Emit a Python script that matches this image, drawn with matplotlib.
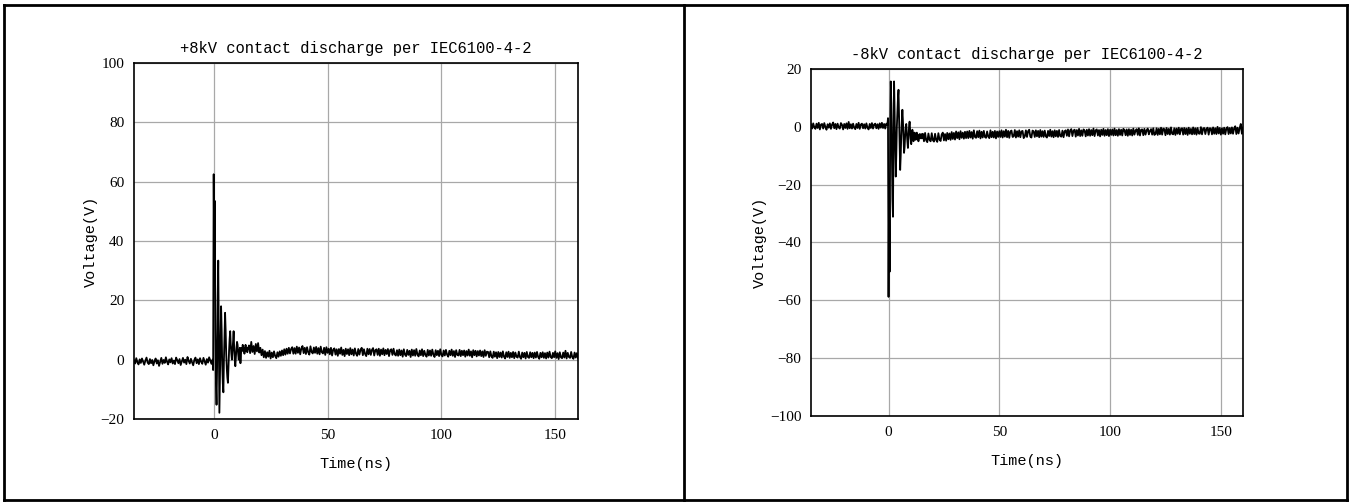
import numpy as np
import matplotlib
matplotlib.use("Agg")
import matplotlib.pyplot as plt
from matplotlib.lines import Line2D

plt.rcParams['font.family'] = ['Liberation Mono', 'DejaVu Sans']

# sample grid of the scope (ns)
pre_start, pre_dt = -35.0, 0.5
ring_start, ring_dt = -0.25, 0.25
post_start, post_dt = 15.5, 0.5

x_ticks = [0, 50, 100, 150]

# +8kV capture
pos_title = "+8kV contact discharge per IEC6100-4-2"
pos_yticks = [-20, 0, 20, 40, 60, 80, 100]
pos_pre = [
    -0.2, -1.3, 0.5, -0.9, -1.6, 0.1, -1.1, 0.4, -0.6, -1.7,
    -0.3, 0.7, -1.0, -1.5, 0.2, -1.2, -0.1, -1.9, -0.5, 0.4,
    -1.3, -0.2, -2.1, -0.8, 0.6, -1.4, -0.1, -1.1, 0.8, -0.7,
    -1.6, 0.1, -0.9, 0.5, -1.3, -0.3, -1.5, 0.7, -0.2, -1.2,
    0.2, -1.8, -0.6, 0.6, -1.0, 0.0, -1.5, 0.9, -0.4, -1.3,
    0.3, -0.9, -1.9, -0.1, 0.7, -1.2, 0.1, -1.5, 0.5, -0.7,
    -1.4, 0.6, -0.5, -1.7, 0.2, -1.0, 0.8, -0.3, -1.4, 0.0]
pos_ring = [
    -3.5, 62.5, 30.0, 53.5, 10.0, -8.0, -15.2, -2.0, 20.0, 33.4,
    5.0, -17.9, -6.0, 8.0, 18.0, 10.0, -2.0, -8.0, -11.0, 0.0,
    8.0, 15.8, 10.0, 2.0, -3.0, -6.0, -7.8, -2.0, 3.0, 7.0,
    9.6, 5.0, 2.0, 0.0, 3.0, 6.0, 9.6, 4.0, 0.0, -2.2,
    1.0, 4.0, 6.0, 5.0, 2.0, 0.0, 2.0, 4.0, -1.2, 2.0,
    4.0, 3.0, 5.0, 3.0, 4.0, 2.0, 3.5, 5.0, 3.0, 4.0,
    2.5, 3.5]
pos_post = [
    4.8, 2.2, 6.0, 2.6, 4.6, 1.9, 5.3, 2.8, 5.6, 2.4,
    4.0, 1.5, 3.4, 0.8, 2.9, 0.6, 2.5, 1.0, 3.0, 0.4, 2.4, 0.8, 2.8, 1.2, 0.5, 2.5,
    1.0, 2.8, 1.3, 3.1, 1.5, 3.5, 1.7, 3.7, 2.0, 4.0, 2.1, 3.6, 4.2, 2.0,
    3.9, 2.0, 4.4, 2.3, 4.1, 1.8, 3.8, 4.6, 2.2, 4.0,
    1.9, 4.2, 2.5, 1.7, 4.5, 2.6, 2.1, 4.1, 2.3, 4.3,
    2.0, 3.9, 1.8, 4.4, 2.5, 2.1, 4.0, 1.6, 4.2, 2.3,
    3.7, 1.8, 4.0, 1.4, 3.4, 3.8, 1.7, 3.5, 1.3, 3.6,
    2.0, 4.1, 1.6, 3.3, 1.2, 3.7, 1.9, 3.5, 1.5, 3.9,
    1.8, 3.4, 1.4, 3.8, 2.0, 1.3, 3.6, 1.7, 3.3, 4.0,
    1.5, 3.5, 1.9, 1.2, 3.7, 1.8, 3.6, 1.6, 3.3, 3.9,
    1.4, 3.2, 3.5, 1.6, 3.7, 1.3, 3.4, 1.8, 3.8, 1.5,
    3.3, 1.9, 3.6, 1.2, 3.2, 3.5, 1.6, 3.7, 1.8, 1.4,
    3.2, 1.3, 3.4, 1.5, 3.1, 1.0, 3.5, 1.7, 1.2, 3.3,
    1.6, 3.0, 0.9, 3.4, 1.4, 3.2, 1.3, 3.6, 1.7, 1.1,
    3.1, 1.5, 3.5, 1.2, 3.0, 1.6, 1.0, 3.3, 1.4, 3.1,
    1.3, 3.4, 1.7, 0.9, 3.2, 1.5, 3.0, 1.2, 3.5, 1.6,
    1.1, 3.1, 1.4, 3.3, 1.7, 1.0, 3.0, 1.5, 3.4, 1.3,
    2.9, 0.9, 3.2, 1.6, 1.4, 3.3, 1.2, 3.0, 1.5, 3.1,
    1.0, 2.9, 1.4, 3.4, 1.3, 2.8, 0.8, 3.2, 1.5, 3.0,
    1.1, 2.9, 1.4, 3.1, 1.2, 2.8, 0.9, 3.2, 1.3, 2.7,
    2.6, 0.8, 2.8, 1.1, 0.6, 2.7, 1.0, 2.5, 0.5, 2.6,
    0.9, 2.4, 0.7, 2.8, 1.0, 0.4, 2.5, 0.9, 2.7, 0.6,
    2.3, 0.8, 2.6, 0.5, 2.4, 1.0, 0.7, 2.7, 0.9, 0.3,
    2.4, 0.8, 2.3, 0.4, 2.6, 0.9, 0.6, 2.5, 0.8, 2.3,
    0.5, 2.4, 0.7, 2.6, 0.9, 0.3, 2.3, 0.8, 2.5, 0.6,
    2.2, 0.4, 2.4, 0.7, 2.7, 0.9, 0.5, 2.3, 0.8, 2.8,
    0.6, 2.2, 0.2, 2.5, 0.8, 0.5, 2.4, 0.7, 3.0, 0.4,
    2.3, 0.9, 0.6, 2.6, 0.8, 0.3, 2.4, 0.7, 2.2, 0.5]

# -8kV capture
neg_title = "-8kV contact discharge per IEC6100-4-2"
neg_yticks = [-100, -80, -60, -40, -20, 0, 20]
neg_pre = [
    0.9, -0.6, 1.2, -0.2, -0.7, 1.1, -0.4, 1.4, -0.9, 0.8,
    1.0, -0.6, 1.3, -0.1, -1.0, 0.9, -0.3, 1.2, -0.7, 0.8,
    1.5, -0.5, 1.0, -0.8, 1.1, -0.2, -0.6, 1.3, 0.7, -0.9,
    1.0, -0.4, 1.2, -0.7, 1.7, -0.5, 0.9, -0.6, 1.1, -0.3,
    -0.8, 1.0, -0.4, 1.4, -0.7, 0.8, 1.1, -0.5, 0.9, -0.6,
    1.2, -0.3, -0.9, 1.0, -0.4, 1.3, -0.6, 0.8, 1.1, -0.5,
    0.9, -0.7, 1.2, -0.3, 1.4, -0.4, 1.0, -0.6, 1.1, 0.7]
neg_ring = [
    3.0, -58.8, -20.0, -50.1, 0.0, 15.7, 8.0, -10.0, -25.0, -31.1,
    0.0, 15.7, 5.0, -8.0, -17.2, -10.0, 0.0, 5.0, 10.0, 12.8,
    3.0, -8.0, -14.9, -10.0, -3.0, 2.0, 5.9, 2.0, -4.0, -9.0,
    -7.0, -3.0, 0.0, 1.0, -2.0, -5.0, -7.3, -4.0, 0.0, 1.8,
    -1.0, -4.0, -6.0, -3.0, -1.0, -2.0, -5.0, -4.0, -2.0, -3.0,
    -4.5, -3.0, -2.0, -4.0, -3.0, -5.0, -3.0, -2.5, -4.0, -3.5,
    -2.5, -4.0]
neg_post = [
    -2.4, -5.0, -2.1, -4.7, -5.3, -2.3, -4.5, -5.0, -2.2, -4.6,
    -5.1, -2.4, -4.6, -5.2, -2.2, -4.4, -4.9, -2.6, -2.0, -4.7, -2.5, -4.8, -2.1, -4.3, -2.3, -4.5,
    -1.8, -4.2, -2.1, -4.4, -1.6, -3.9, -1.9, -4.3, -1.5, -3.8, -2.0, -4.1, -1.7, -3.9,
    -1.6, -3.9, -1.4, -3.7, -1.8, -4.1, -1.2, -3.5, -3.8, -1.5,
    -3.6, -1.3, -4.0, -1.7, -3.7, -1.4, -3.5, -3.8, -1.6, -3.4,
    -3.9, -1.2, -3.6, -1.7, -3.7, -1.4, -4.0, -1.6, -3.5, -1.5,
    -3.5, -1.2, -3.7, -1.5, -3.4, -1.0, -3.6, -1.4, -3.8, -1.6,
    -1.3, -3.5, -3.3, -1.1, -3.7, -1.5, -3.4, -1.2, -3.6, -1.6,
    -1.4, -3.9, -3.3, -1.2, -3.5, -1.5, -1.0, -3.4, -3.7, -1.3,
    -1.6, -3.5, -1.2, -3.3, -1.4, -3.6, -1.1, -3.4, -1.5, -3.5,
    -1.3, -3.3, -3.7, -1.4, -3.2, -1.0, -3.4, -1.5, -3.6, -1.2,
    -3.3, -1.4, -3.5, -1.1, -3.2, -3.4, -1.3, -3.6, -1.5, -1.2,
    -3.1, -0.9, -3.3, -1.2, -0.8, -3.2, -1.3, -1.0, -3.4, -1.1,
    -3.0, -0.7, -3.2, -1.2, -3.1, -0.9, -1.3, -3.3, -1.0, -3.0,
    -0.8, -3.1, -1.1, -2.9, -0.6, -3.2, -1.2, -0.9, -3.0, -1.1,
    -3.3, -1.0, -2.8, -0.7, -3.1, -1.1, -2.9, -0.8, -3.2, -1.0,
    -2.8, -0.9, -3.0, -0.6, -2.9, -1.1, -3.1, -0.8, -2.8, -1.0,
    -3.0, -0.7, -1.1, -2.9, -0.9, -3.1, -0.8, -2.8, -1.0, -3.0,
    -0.6, -2.7, -1.3, -0.8, -2.8, -0.5, -3.0, -1.0, -0.9, -2.9,
    -0.7, -2.7, -1.2, -0.6, -2.6, -1.4, -0.8, -2.7, -0.5, -2.8,
    -2.5, -0.5, -2.8, -0.7, -2.6, -0.3, -2.7, -0.6, -0.8, -2.9,
    -0.4, -2.5, -0.7, -2.7, -0.2, -2.4, -2.6, -0.5, -2.8, -0.6,
    -2.4, -0.3, -2.6, -0.7, -0.5, -2.7, -0.4, -2.5, -0.6, -2.8,
    -0.3, -2.4, -0.7, -2.6, -0.2, -2.5, -0.5, -2.7, -0.4, -2.3,
    -2.4, -0.1, -2.6, -0.6, -0.4, -2.5, -0.7, -0.3, -2.7, -0.5,
    -0.6, -2.6, -0.2, -2.4, -0.5, -2.5, 0.0, -2.3, -0.4, -2.7,
    -0.5, -2.4, -0.3, -2.6, -0.6, -0.1, -2.5, -0.4, -2.3, -0.2,
    -2.4, -0.5, 0.2, -2.5, -0.3, -2.3, -0.4, 1.0, -2.4, -0.2]


def trace(pre, ring, post):
    t = np.concatenate([pre_start + pre_dt * np.arange(len(pre)),
                        ring_start + ring_dt * np.arange(len(ring)),
                        post_start + post_dt * np.arange(len(post))])
    v = np.concatenate([pre, ring, post])
    return t, v


def plot_capture(ax, title, yticks, pre, ring, post):
    t, v = trace(pre, ring, post)
    ax.plot(t, v, color="black", lw=1.3)
    ax.set_xlim(-35, 160)
    ax.set_ylim(yticks[0], yticks[-1])
    ax.set_xticks(x_ticks)
    ax.set_yticks(yticks)
    ax.grid(True, color="#a8a8a8", lw=0.9)
    ax.set_axisbelow(True)
    ax.tick_params(length=0, pad=7, labelsize=11)
    for lab in ax.get_xticklabels() + ax.get_yticklabels():
        lab.set_family(['Liberation Serif', 'DejaVu Serif'])
    for s in ax.spines.values():
        s.set_linewidth(1.2)
    ax.set_title(title, fontsize=11.2, pad=7)
    ax.set_xlabel("Time(ns)", fontsize=11, labelpad=11)
    ax.set_ylabel("Voltage(V)", fontsize=11, labelpad=2)


fig = plt.figure(figsize=(13.51, 5.04), dpi=100)
W, H = 1351, 504
ax1 = fig.add_axes([134 / W, 1 - 419 / H, 444 / W, 356 / H])
ax2 = fig.add_axes([811 / W, 1 - 416 / H, 432 / W, 347 / H])
plot_capture(ax1, pos_title, pos_yticks, pos_pre, pos_ring, pos_post)
plot_capture(ax2, neg_title, neg_yticks, neg_pre, neg_ring, neg_post)

# outer frame like the document table
frame = dict(color="black", lw=2.0, transform=fig.transFigure)
x0, x1, xm = 4 / W, 1347 / W, 684 / W
y0, y1 = 1 - 500 / H, 1 - 5 / H
for xs, ys in [([x0, x1], [y1, y1]), ([x0, x1], [y0, y0]),
               ([x0, x0], [y0, y1]), ([x1, x1], [y0, y1]), ([xm, xm], [y0, y1])]:
    fig.add_artist(Line2D(xs, ys, **frame))

fig.savefig("out.png", dpi=100)
